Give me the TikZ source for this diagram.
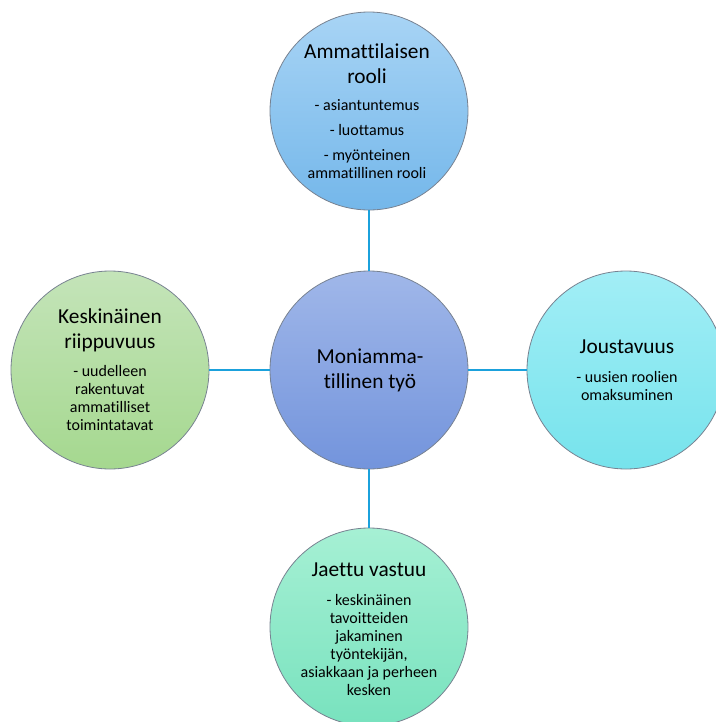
\documentclass[tikz,border=0pt]{standalone}
\usepackage{fontspec}
\setmainfont{Carlito}[Ligatures=NoCommon]
\definecolor{linkblue}{RGB}{27,161,220}
\definecolor{rimgray}{RGB}{120,130,145}
\tikzset{every picture/.style={line width=0.75pt}}
\tikzset{
  bubble/.style={circle, draw=rimgray, line width=0.6pt, minimum size=148.5pt, inner sep=0pt},
  link/.style={draw=linkblue, line width=1.9pt},
  headtext/.style={align=center, font=\fontsize{16}{18.75}\selectfont},
  itemtext/.style={align=center, font=\fontsize{12}{13.5}\selectfont}
}

\begin{document}
\begin{tikzpicture}[x=0.75pt,y=0.75pt,yscale=-1,xscale=1]
\useasboundingbox (0,0) rectangle (716,722);

%Shape: Circle [hub]
\node [bubble, top color={rgb,255:red,160;green,183;blue,233}, bottom color={rgb,255:red,115;green,148;blue,220}] (hub) at (369,370) {};
%Shape: Circle [top]
\node [bubble, top color={rgb,255:red,168;green,212;blue,245}, bottom color={rgb,255:red,116;green,183;blue,234}] (rooli) at (369,111) {};
%Shape: Circle [left]
\node [bubble, top color={rgb,255:red,196;green,228;blue,185}, bottom color={rgb,255:red,165;green,216;blue,143}] (riippuvuus) at (110,370) {};
%Shape: Circle [right]
\node [bubble, top color={rgb,255:red,162;green,238;blue,246}, bottom color={rgb,255:red,118;green,227;blue,236}] (joustavuus) at (626,370) {};
%Shape: Circle [bottom]
\node [bubble, top color={rgb,255:red,166;green,240;blue,212}, bottom color={rgb,255:red,120;green,226;blue,190}] (vastuu) at (369,627) {};

%Straight Lines
\draw [link] (rooli) -- (hub) ;
%Straight Lines
\draw [link] (riippuvuus) -- (hub) ;
%Straight Lines
\draw [link] (hub) -- (joustavuus) ;
%Straight Lines
\draw [link] (hub) -- (vastuu) ;

% Text Node
\node [headtext] (hubt) at (370,370) {Moniamma-\\tillinen työ};
% Text Node
\node [headtext] (roolit) at (367,64) {Ammattilaisen\\rooli};
% Text Node
\node [itemtext] (rooliv) at (367,139) {- asiantuntemus\\[5.25pt]- luottamus\\[5.25pt]- myönteinen\\ammatillinen rooli};
% Text Node
\node [headtext] (riippuvuust) at (110,330) {Keskinäinen\\riippuvuus};
% Text Node
\node [itemtext] (riippuvuusv) at (110,398) {- uudelleen\\rakentuvat\\ammatilliset\\toimintatavat};
% Text Node
\node [headtext] (joustavuust) at (627,347) {Joustavuus};
% Text Node
\node [itemtext] (joustavuusv) at (627,386) {- uusien roolien\\omaksuminen};
% Text Node
\node [headtext] (vastuut) at (369,570) {Jaettu vastuu};
% Text Node
\node [itemtext] (vastuuv) at (369,645) {- keskinäinen\\tavoitteiden\\jakaminen\\työntekijän,\\asiakkaan ja perheen\\kesken};

\end{tikzpicture}
\end{document}
